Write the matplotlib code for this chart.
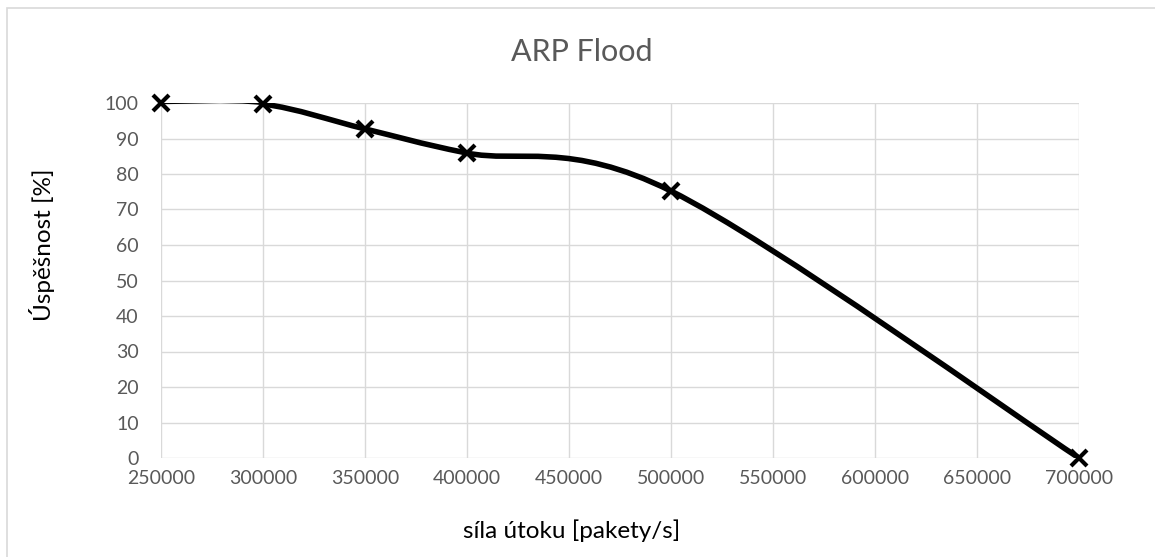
import numpy as np
import matplotlib.pyplot as plt
from matplotlib.path import Path
from matplotlib.patches import PathPatch, Rectangle

# data
sila = [250000, 300000, 350000, 400000, 500000, 700000]
uspesnost = [100, 99.7, 92.7, 85.9, 75.2, 0]

x_ticks = list(range(250000, 700001, 50000))
y_ticks = list(range(0, 101, 10))

plt.rcParams['font.family'] = ['Lato', 'DejaVu Sans']

"""
Smoothed curve like Excel (cubic bezier, catmull-rom control points)
"""
def smooth_segments(x, y):
    pts = np.column_stack([x, y]).astype(float)
    n = len(pts)
    segs = []
    for i in range(n - 1):
        p0 = pts[max(i - 1, 0)]
        p1 = pts[i]
        p2 = pts[i + 1]
        p3 = pts[min(i + 2, n - 1)]
        c1 = p1 + (p2 - p0) / 6.0
        c2 = p2 - (p3 - p1) / 6.0
        segs.append([p1, c1, c2, p2])
    return segs

fig = plt.figure(figsize=(11.55, 5.57), dpi=100)
ax = fig.add_axes([161 / 1155, 1 - 458 / 557, (1079 - 161) / 1155, (458 - 103) / 557])

grid_col = '#d9d9d9'
text_col = '#595959'

for i, seg in enumerate(smooth_segments(sila, uspesnost)):
    path = Path(seg, [Path.MOVETO, Path.CURVE4, Path.CURVE4, Path.CURVE4])
    lw = 1.8 if i == 0 else 4.0
    ax.add_patch(PathPatch(path, facecolor='none', edgecolor='black', lw=lw,
                           capstyle='round', joinstyle='round', zorder=3))

ax.plot(sila, uspesnost, linestyle='none', marker='x', color='black',
        markersize=11, markeredgewidth=3.0, zorder=4, clip_on=False)

ax.set_xlim(250000, 700000)
ax.set_ylim(0, 100)
ax.set_xticks(x_ticks)
ax.set_yticks(y_ticks)
ax.set_xticklabels([str(v) for v in x_ticks])
ax.set_yticklabels([str(v) for v in y_ticks])
ax.tick_params(axis='both', length=0, labelsize=14, labelcolor=text_col)
ax.tick_params(axis='y', pad=16)
ax.tick_params(axis='x', pad=9)
ax.grid(True, color=grid_col, lw=1.0)
ax.set_axisbelow(True)
for s in ax.spines.values():
    s.set_visible(False)

# chart title and axis titles
fig.text(582 / 1155, 1 - 52 / 557, 'ARP Flood', ha='center', va='center',
         fontsize=22, color=text_col)
fig.text(572 / 1155, 1 - 531 / 557, 'síla útoku [pakety/s]', ha='center', va='center',
         fontsize=17.5, color='black')
fig.text(42 / 1155, 1 - 245 / 557, 'Úspěšnost [%]', ha='center', va='center',
         fontsize=17.5, color='black', rotation=90)

# chart area border (cut off at right and bottom)
fig.patches.append(Rectangle((7 / 1155, -0.1), 2, 1 - 8 / 557 + 0.1,
                             transform=fig.transFigure, fill=False,
                             edgecolor=grid_col, lw=1.2))

plt.savefig('out.png', dpi=100)
